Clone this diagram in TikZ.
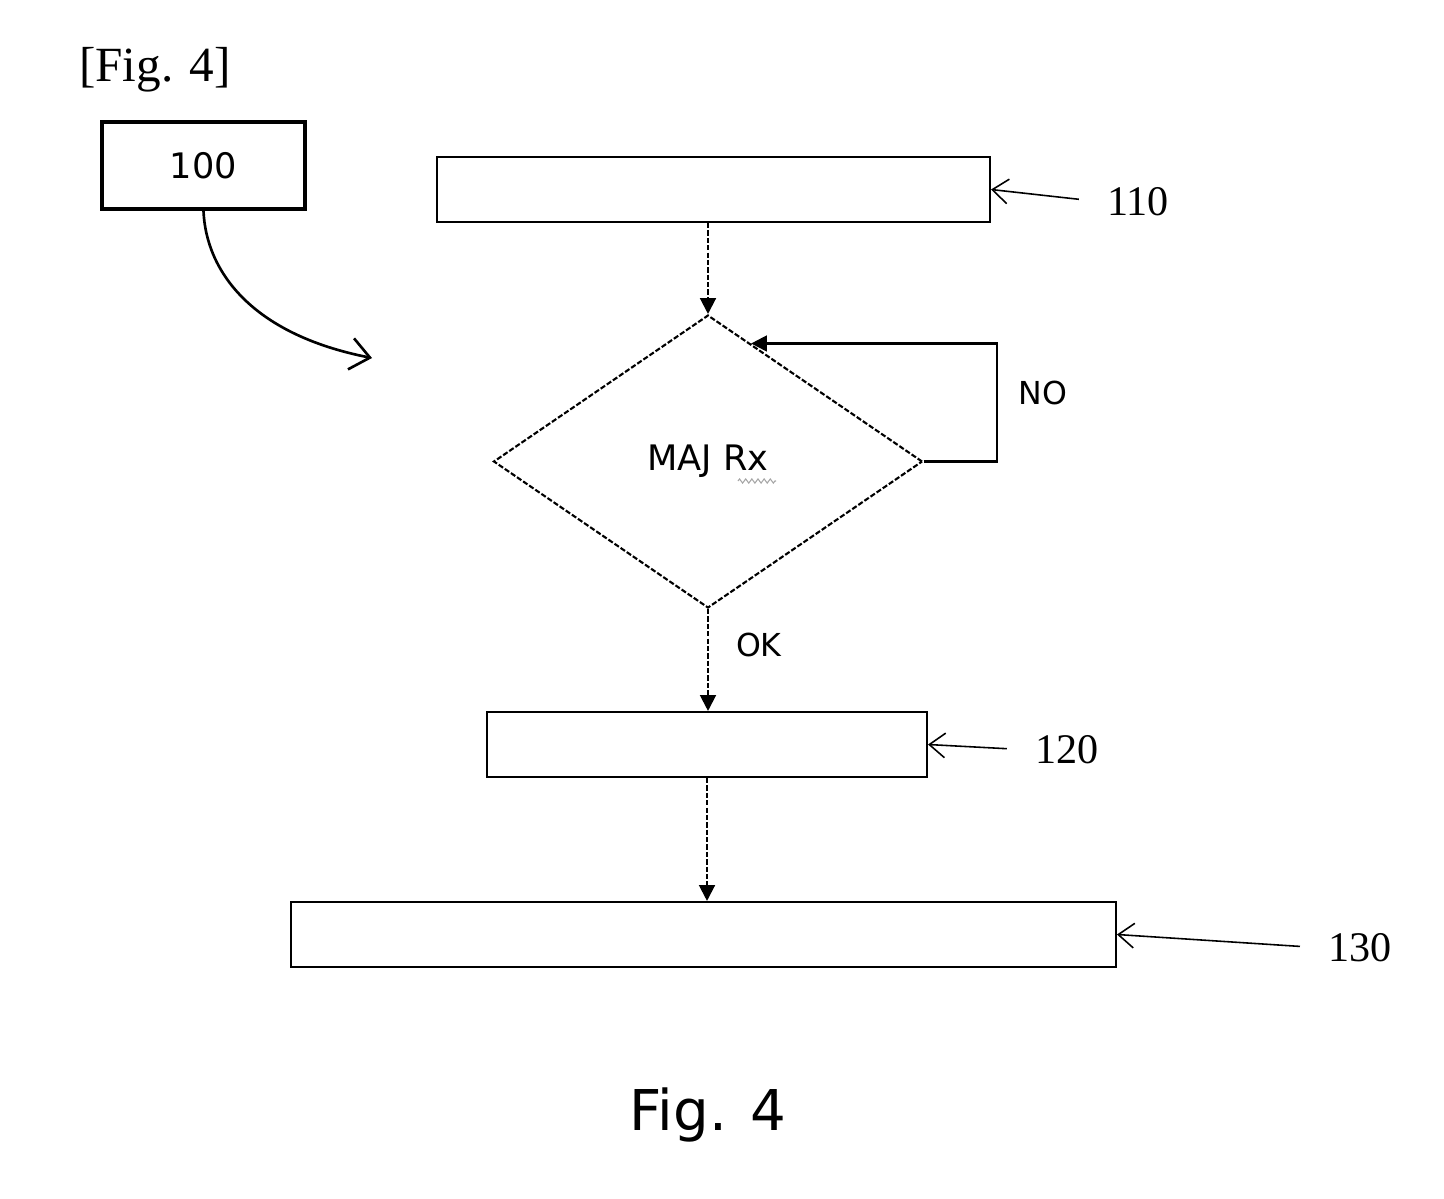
\documentclass[tikz,border=0pt]{standalone}
\usepackage{fontspec}
\setmainfont{Liberation Serif}
\setsansfont{DejaVu Sans}
\usetikzlibrary{arrows.meta,calc,positioning,shapes.geometric,decorations.pathmorphing}

\tikzset{
  procbox/.style={draw, line width=1.2pt, inner sep=0pt, minimum height=1.3cm},
  decision/.style={diamond, draw, line width=1.2pt, dash pattern=on 3pt off 1.2pt, inner sep=0pt,
    minimum width=8.58cm, minimum height=5.86cm, font=\sffamily\fontsize{20}{24}\selectfont},
  flow/.style={line width=1.2pt, dash pattern=on 3pt off 1.2pt, -{Triangle[length=9pt,width=9pt]}},
  loopback/.style={line width=1.3pt, -{Triangle[length=9pt,width=9pt]}},
  refarrow/.style={line width=0.9pt, -{Straight Barb[length=9pt,width=14pt]}, shorten <=14pt},
  reflabel/.style={font=\fontsize{24}{28}\selectfont, inner sep=2pt},
  condlabel/.style={font=\sffamily\fontsize{18}{22}\selectfont}
}

\begin{document}
\begin{tikzpicture}[x=0.02cm, y=-0.02cm]
    \useasboundingbox (0,0) rectangle (1444,1198);

    % Title
    \node[font=\fontsize{28}{32}\selectfont] (title) at (155,70) {[Fig. 4]};

    % Reference box
    \node[draw, line width=2.3pt, minimum width=4.06cm, minimum height=1.74cm,
          font=\sffamily\fontsize{20}{24}\selectfont] (box100) at (203.5,165.5) {100};
    \coordinate (tip100) at (372,358);
    \draw[line width=1.5pt, -{Straight Barb[length=11pt,width=18pt]}]
        (box100.south) .. controls (206,270) and (250,334) .. (tip100);

    % Steps
    \node[procbox, minimum width=11.06cm] (box110) at (713.5,189.5) {};
    \node[decision] (dec) at (708,461.5) {MAJ Rx};
    \node[procbox, minimum width=8.8cm] (box120) at (707,744.5) {};
    \node[procbox, minimum width=16.5cm] (box130) at (703.5,934.5) {};

    % spell-check squiggle under Rx
    \draw[gray!70, line width=0.6pt, decorate, decoration={zigzag, amplitude=1.2pt, segment length=3.5pt}]
        (738,481) -- (776,481);

    % Flow
    \draw[flow] (dec.north |- box110.south) -- (dec.north);
    \draw[flow] (dec.south) -- (dec.south |- box120.north) node[condlabel, pos=0.35, right=12pt] (ok) {OK};
    \draw[flow] (box120.south) -- (box120.south |- box130.north);

    % NO loop
    \coordinate (entry) at ($(dec.north)!0.2!(dec.east)$);
    \coordinate (corner) at (997,461.5);
    \draw[loopback] (dec.east) -- (corner) |- (entry);
    \node[condlabel] (no) at (1043,393) {NO};

    % Reference numerals
    \node[reflabel] (lbl110) at (1138,202) {110};
    \node[reflabel] (lbl120) at (1067,750) {120};
    \node[reflabel] (lbl130) at (1360,948) {130};
    \draw[refarrow] (lbl110.west) -- (box110.east);
    \draw[refarrow] (lbl120.west) -- (box120.east);
    \draw[refarrow] (lbl130.west) -- (box130.east);

    % Caption
    \node[font=\sffamily\fontsize{32}{36}\selectfont] (caption) at (708,1115) {Fig. 4};

\end{tikzpicture}
\end{document}
